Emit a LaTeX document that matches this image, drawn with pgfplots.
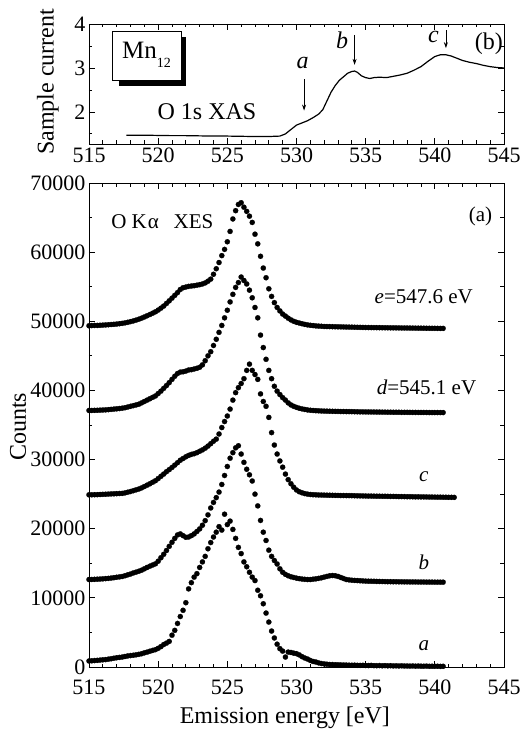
\documentclass[border=0pt]{standalone}
\usepackage{fontspec}
\setmainfont{Liberation Serif}
\usepackage{pgfplots}
\usepackage{pgfplotstable}
\pgfplotsset{compat=1.18}
\usetikzlibrary{arrows.meta}

% O K-alpha XES spectra, one column per excitation energy
\pgfplotstableread{
E a b c d e
515.0 870 12650 24900 37100 49350
515.2 900 12660 24910 37100 49380
515.4 930 12680 24920 37120 49400
515.6 960 12700 24930 37130 49400
515.8 1000 12720 24950 37150 49420
516.0 1040 12750 24970 37170 49450
516.2 1070 12780 24990 37190 49470
516.4 1130 12820 25010 37220 49500
516.6 1200 12860 25030 37260 49530
516.8 1270 12920 25050 37300 49560
517.0 1340 12980 25070 37340 49600
517.2 1390 13030 25090 37380 49650
517.4 1440 13090 25110 37430 49700
517.6 1520 13200 25180 37500 49770
517.8 1600 13330 25280 37600 49850
518.0 1650 13450 25380 37700 49950
518.2 1700 13600 25500 37800 50050
518.4 1760 13720 25620 37900 50170
518.6 1830 13850 25740 38010 50300
518.8 1920 14000 25900 38200 50450
519.0 2050 14200 26100 38400 50620
519.2 2150 14400 26300 38600 50800
519.4 2280 14580 26500 38800 50980
519.6 2400 14750 26720 39000 51170
519.8 2510 14920 26940 39200 51370
520.0 2700 15300 27250 39550 51620
520.2 2950 15800 27580 39900 51900
520.4 3250 16300 27900 40300 52200
520.6 3450 16850 28250 40700 52580
520.8 3700 17450 28550 41130 52960
521.0 4600 18040 28860 41600 53350
521.2 5300 18600 29200 42050 53750
521.4 6300 19100 29550 42450 54150
521.6 7300 19250 29900 42650 54600
521.8 8200 19000 30150 42700 54850
522.0 9300 18760 30400 42800 54950
522.2 11300 18800 30600 42950 55050
522.4 12200 19000 30750 43000 55100
522.6 13000 19250 30850 43100 55150
522.8 13500 19600 31000 43200 55220
523.0 14400 19970 31200 43350 55300
523.2 15200 20500 31400 43700 55400
523.4 16000 21170 31650 44300 55550
523.6 17100 22000 31950 45000 55800
523.8 18000 23000 32300 45600 56100
524.0 18800 23800 32650 46500 56800
524.2 19500 24500 32960 47400 57600
524.4 20300 25300 33700 48400 58500
524.6 19800 26400 34630 49400 59500
524.8 22100 27700 35500 50500 60400
525.0 20600 29000 36300 51600 61500
525.2 21100 30200 37300 52800 63000
525.4 19900 31000 38600 53900 64800
525.6 18600 31700 39680 54900 66000
525.8 17300 32000 40400 55600 66900
526.0 16400 30800 41000 56400 67150
526.2 15200 29600 41700 55900 66500
526.4 14500 28600 42900 55400 65900
526.6 13700 27800 43800 54500 65200
526.8 13000 26900 42900 53400 64300
527.0 12500 25000 42300 52000 62600
527.2 11100 23300 41600 50500 61200
527.4 10300 21200 39500 48000 59400
527.6 9150 19500 38400 46200 57700
527.8 7800 18300 37700 44500 56300
528.0 6500 16900 36100 42900 54700
528.2 5200 16000 33900 41700 53600
528.4 4200 15400 32100 40600 52700
528.6 3300 14900 30800 39900 52000
528.8 2650 14200 29800 39400 51500
529.0 2300 13700 28900 38960 51050
529.2 1440 13400 27900 38600 50750
529.4 2160 13200 27100 38200 50450
529.6 2100 13050 26500 37900 50200
529.8 2000 12950 26000 37700 50000
530.0 1930 12850 25600 37550 49850
530.2 1750 12780 25350 37420 49750
530.4 1500 12720 25200 37330 49650
530.6 1300 12680 25080 37250 49550
530.8 1150 12650 25000 37180 49480
531.0 950 12650 24950 37130 49420
531.2 800 12700 24920 37100 49380
531.4 720 12750 24900 37070 49330
531.6 600 12820 24880 37050 49300
531.8 500 12900 24870 37030 49280
532.0 450 13000 24860 37010 49250
532.2 400 13100 24850 37000 49240
532.4 360 13200 24840 36990 49230
532.6 350 13230 24830 36980 49220
532.8 330 13200 24820 36970 49210
533.0 320 13100 24810 36960 49200
533.2 300 12950 24800 36950 49190
533.4 290 12800 24800 36950 49180
533.6 280 12650 24790 36940 49170
533.8 260 12600 24790 36940 49160
534.0 250 12550 24780 36930 49150
534.2 260 12520 24770 36920 49140
534.4 240 12500 24760 36910 49130
534.6 230 12470 24750 36900 49120
534.8 240 12450 24740 36900 49110
535.0 220 12420 24730 36890 49100
535.2 210 12410 24720 36890 49095
535.4 230 12400 24720 36880 49090
535.6 200 12390 24710 36880 49085
535.8 190 12380 24700 36870 49080
536.0 210 12370 24700 36870 49075
536.2 180 12360 24690 36860 49070
536.4 200 12350 24690 36860 49065
536.6 170 12340 24680 36850 49060
536.8 190 12340 24670 36850 49055
537.0 160 12330 24670 36840 49050
537.2 170 12330 24660 36840 49045
537.4 150 12320 24650 36840 49040
537.6 170 12320 24650 36830 49035
537.8 140 12310 24640 36830 49030
538.0 150 12310 24630 36830 49025
538.2 130 12300 24630 36820 49020
538.4 150 12300 24620 36820 49015
538.6 120 12300 24610 36820 49010
538.8 140 12290 24610 36810 49005
539.0 120 12290 24600 36810 49000
539.2 110 12290 24600 36810 48995
539.4 130 12280 24590 36810 48990
539.6 100 12280 24580 36800 48985
539.8 110 12280 24580 36800 48980
540.0 100 12270 24570 36800 48980
540.2 110 12270 24560 36800 48975
540.4 90 12270 24560 36800 48970
540.6 100 12270 24550 36800 48970
540.8 nan nan 24550 nan nan
541.0 nan nan 24540 nan nan
541.2 nan nan 24540 nan nan
541.4 nan nan 24530 nan nan
}\xes

% O 1s XAS sample current
\pgfplotstableread{
E I
517.7 1.47
518.0 1.47
519.0 1.47
520.0 1.465
521.0 1.46
522.0 1.46
523.0 1.455
524.0 1.45
525.0 1.45
526.0 1.445
527.0 1.44
528.0 1.44
528.8 1.45
529.2 1.50
529.6 1.60
530.0 1.70
530.4 1.75
530.8 1.80
531.2 1.87
531.6 1.95
531.9 2.05
532.2 2.25
532.5 2.45
532.8 2.60
533.1 2.72
533.4 2.80
533.7 2.88
534.0 2.92
534.2 2.93
534.4 2.90
534.7 2.82
535.0 2.78
535.3 2.76
535.6 2.78
536.0 2.79
536.5 2.78
537.0 2.81
537.5 2.84
538.0 2.88
538.5 2.95
539.0 3.03
539.5 3.15
540.0 3.26
540.4 3.30
540.8 3.30
541.2 3.27
541.6 3.22
542.0 3.17
542.5 3.13
543.0 3.10
543.5 3.06
544.0 3.03
544.5 3.01
545.0 3.00
}\xas

\pgfplotsset{
  panel/.style={
    scale only axis, width=415pt,
    xmin=515, xmax=545,
    xtick distance=5, minor x tick num=4,
    tick align=inside,
    major tick length=6pt, minor tick length=3.5pt,
    axis line style={line width=0.9pt},
    tick style={line width=0.8pt, black},
    tick label style={font=\fontsize{22}{24}\selectfont},
    /pgf/number format/assume math mode=true,
    /pgf/number format/1000 sep={},
    label style={font=\fontsize{24}{28}\selectfont},
    clip=false,
  },
  dots/.style={only marks, mark=*, mark size=2.6pt,
    mark options={fill=black, draw=black, line width=0.2pt}},
}

\begin{document}
\begin{tikzpicture}
\useasboundingbox (-89pt,-73pt) rectangle (438pt,667pt);

% (a) XES
\begin{axis}[panel,
  at={(0pt,0pt)}, anchor=south west, height=484pt,
  ymin=0, ymax=70000,
  ytick distance=10000, minor y tick num=1,
  scaled y ticks=false,
  yticklabel style={/pgf/number format/fixed},
  xticklabel style={yshift=-9pt},
  xlabel={Emission energy [eV]},
  ylabel={Counts},
  xlabel style={at={(axis description cs:0.472,-0.105)}, anchor=center},
  ylabel style={at={(axis description cs:-0.171,0.4965)}, anchor=center},
]
\addplot[dots] table[x=E, y=a] {\xes};
\addplot[dots] table[x=E, y=b] {\xes};
\addplot[dots] table[x=E, y=c] {\xes};
\addplot[dots] table[x=E, y=d] {\xes};
\addplot[dots] table[x=E, y=e] {\xes};
\begin{scope}[font=\fontsize{21}{24}\selectfont]
\node at (axis cs:520.3,64400) {O K\hspace{0.05em}α\hspace{0.7em}XES};
\node at (axis cs:543.3,65200) {(a)};
\node at (axis cs:539.2,53600) {\textit{e}=547.6 eV};
\node at (axis cs:539.4,40400) {\textit{d}=545.1 eV};
\node at (axis cs:539.2,27560) {\textit{c}};
\node at (axis cs:539.2,15150) {\textit{b}};
\node at (axis cs:539.2,3130) {\textit{a}};
\end{scope}
\end{axis}

% (b) XAS
\begin{axis}[panel,
  at={(0pt,523pt)}, anchor=south west, height=120pt,
  ymin=1.27, ymax=4,
  ytick={2,3,4}, minor ytick={1.5,2.5,3.5},
  ylabel={Sample current},
  ylabel style={at={(axis description cs:-0.099,0.517)}, anchor=center},
]
\addplot[line width=1.2pt, black] table[x=E, y=I] {\xas};
\fill[black] (axis cs:517.17,3.70) rectangle (axis cs:522.0,2.60);
\draw[fill=white, line width=0.8pt] (axis cs:516.7,3.825) rectangle (axis cs:521.65,2.726);
\node[font=\fontsize{25}{28}\selectfont] at (axis cs:519.15,3.30)
  {Mn\raisebox{-0.35em}{\fontsize{14}{14}\selectfont 12}};
\begin{scope}[font=\fontsize{24}{28}\selectfont]
\node at (axis cs:523.53,2.0) {O 1s XAS};
\node at (axis cs:543.9,3.56) {(b)};
\node at (axis cs:530.45,3.11) {\textit{a}};
\node at (axis cs:533.3,3.64) {\textit{b}};
\node at (axis cs:539.9,3.71) {\textit{c}};
\end{scope}
\begin{scope}[line width=0.8pt, -{Stealth[length=6pt, width=4pt]}]
\draw (axis cs:530.55,2.74) -- (axis cs:530.55,2.03);
\draw (axis cs:534.2,3.75) -- (axis cs:534.2,3.07);
\draw (axis cs:540.8,3.86) -- (axis cs:540.8,3.45);
\end{scope}
\end{axis}
\end{tikzpicture}
\end{document}
